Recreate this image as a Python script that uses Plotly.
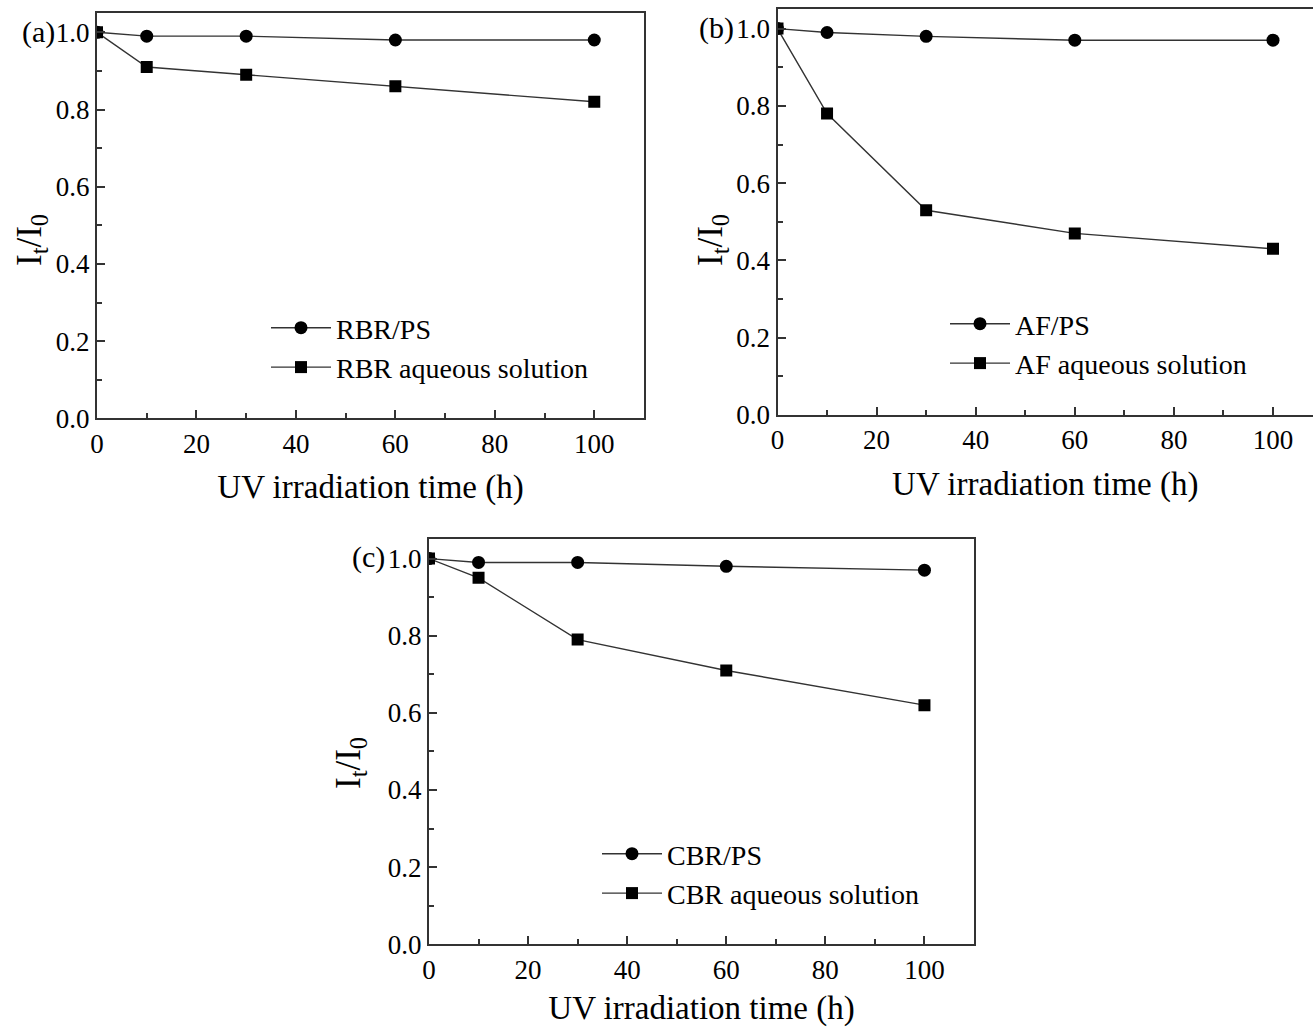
import plotly.graph_objects as go

W, H = 1313, 1027

time_h = [0, 10, 30, 60, 100]

rbr_ps = [1.0, 0.99, 0.99, 0.98, 0.98]
rbr_aq = [1.0, 0.91, 0.89, 0.86, 0.82]

af_ps = [1.0, 0.99, 0.98, 0.97, 0.97]
af_aq = [1.0, 0.78, 0.53, 0.47, 0.43]

cbr_ps = [1.0, 0.99, 0.99, 0.98, 0.97]
cbr_aq = [1.0, 0.95, 0.79, 0.71, 0.62]

panel_labels = ["(a)", "(b)", "(c)"]
names_ps = ["RBR/PS", "AF/PS", "CBR/PS"]
names_aq = ["RBR aqueous solution", "AF aqueous solution", "CBR aqueous solution"]
ps_series = [rbr_ps, af_ps, cbr_ps]
aq_series = [rbr_aq, af_aq, cbr_aq]

x_title = "UV irradiation time (h)"
y_title = "I<sub>t</sub>/I<sub>0</sub>"

FONT = "Liberation Serif, Times New Roman, serif"
LINE = "#333333"

# panel boxes in pixels: (left, right, top, bottom), x range max
boxes = [
    (97, 644, 13, 418.3, 110),
    (777.5, 1313, 9.3, 415, (1313 - 777.5) / 495.5 * 100),
    (429, 974, 539.3, 944.3, 110),
]

fig = go.Figure()

for i in range(3):
    ax = "" if i == 0 else str(i + 1)
    leg = "legend" if i == 0 else f"legend{i + 1}"
    fig.add_trace(go.Scatter(
        x=time_h, y=ps_series[i], name=names_ps[i], mode="lines+markers",
        line=dict(color=LINE, width=1.4),
        marker=dict(symbol="circle", size=13, color="black"),
        xaxis="x" + ax, yaxis="y" + ax, legend=leg, cliponaxis=True,
    ))
    fig.add_trace(go.Scatter(
        x=time_h, y=aq_series[i], name=names_aq[i], mode="lines+markers",
        line=dict(color=LINE, width=1.4),
        marker=dict(symbol="square", size=12, color="black"),
        xaxis="x" + ax, yaxis="y" + ax, legend=leg, cliponaxis=True,
    ))

layout = dict(
    width=W, height=H, autosize=False,
    margin=dict(l=0, r=0, t=0, b=0, autoexpand=False),
    paper_bgcolor="white", plot_bgcolor="white",
    font=dict(family=FONT, color="black", size=27),
    showlegend=True,
)

for i, (l, r, t, b, xmax) in enumerate(boxes):
    ax = "" if i == 0 else str(i + 1)
    common = dict(
        showline=True, linecolor=LINE, linewidth=2,
        ticks="inside", ticklen=8, tickwidth=1.5, tickcolor=LINE,
        showgrid=False, zeroline=False, automargin=False,
        tickfont=dict(family=FONT, size=27, color="black"),
    )
    layout["xaxis" + ax] = dict(
        common,
        domain=[l / W, r / W], range=[0, xmax],
        anchor="y" + ax, mirror=True,
        tick0=0, dtick=20,
        minor=dict(ticks="inside", ticklen=5, tickwidth=1.5, tickcolor=LINE, dtick=10, tick0=0),
        title=dict(text=x_title, font=dict(family=FONT, size=33), standoff=17),
    )
    layout["yaxis" + ax] = dict(
        common,
        domain=[1 - b / H, 1 - t / H], range=[0, 1.05],
        anchor="x" + ax, mirror=(i != 1),
        tick0=0, dtick=0.2, tickformat=".1f",
        minor=dict(ticks="inside", ticklen=5, tickwidth=1.5, tickcolor=LINE, dtick=0.1, tick0=0),
    )

legend_pos = [(266, 303), (945, 299), (597, 829)]
for i, (lx, ly) in enumerate(legend_pos):
    key = "legend" if i == 0 else f"legend{i + 1}"
    layout[key] = dict(
        x=lx / W, y=1 - ly / H, xanchor="left", yanchor="top",
        bgcolor="rgba(0,0,0,0)", borderwidth=0,
        font=dict(family=FONT, size=28, color="black"),
        itemwidth=60,
    )

annotations = []
label_pos = [(38, 32), (716, 28), (368, 557)]
for i, (px, py) in enumerate(label_pos):
    annotations.append(dict(
        text=panel_labels[i], x=px / W, y=1 - py / H, xref="paper", yref="paper",
        showarrow=False, xanchor="center", yanchor="middle",
        font=dict(family=FONT, size=30, color="black"),
    ))
ytitle_pos = [(31, 240), (712, 240), (350, 763)]
for px, py in ytitle_pos:
    annotations.append(dict(
        text=y_title, x=px / W, y=1 - py / H, xref="paper", yref="paper",
        showarrow=False, xanchor="center", yanchor="middle", textangle=-90,
        font=dict(family=FONT, size=35, color="black"),
    ))
layout["annotations"] = annotations

fig.update_layout(**layout)
fig.write_html(
    "out.html",
    config={"displayModeBar": False},
    post_script="document.body.style.margin='0';document.body.style.padding='0';",
)
